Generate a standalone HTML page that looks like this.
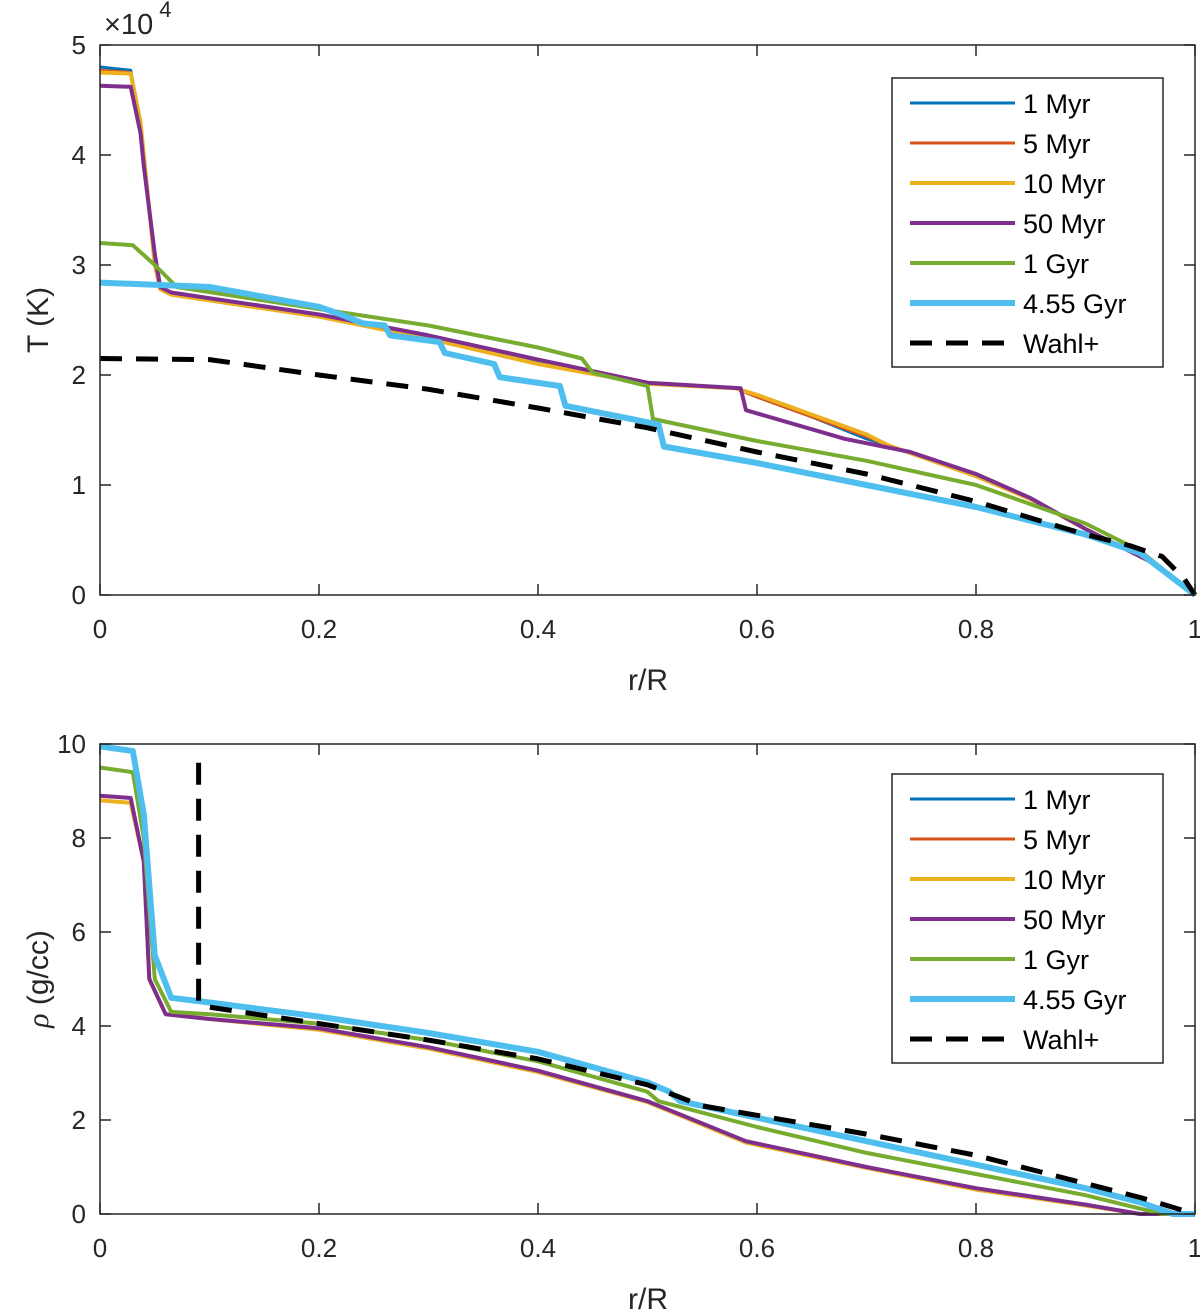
<!DOCTYPE html>
<html><head><meta charset="utf-8"><style>
body{margin:0;background:#fff;}
svg{display:block;font-family:"Liberation Sans",Arial,sans-serif;}
</style></head><body>
<svg id="chart" width="1200" height="1310" viewBox="0 0 1200 1310"></svg>
<script>
// ---- data (top panel: T in 1e4 K vs r/R) ----
const seriesNames = ["1 Myr","5 Myr","10 Myr","50 Myr","1 Gyr","4.55 Gyr","Wahl+"];
const seriesColors = ["#0072BD","#D95319","#EDB120","#7E2F8E","#77AC30","#4DBEEE","#000000"];
const seriesWidths = [3,3,4,4,4,6,5];
const tX1 = [0,0.028,0.037,0.04,0.05,0.055,0.065,0.2,0.3,0.4,0.5,0.58,0.6,0.65,0.7,0.72,0.76,0.8,0.85,0.9,0.93,0.96,1];
const tY1 = [4.8,4.77,4.3,4.0,3.0,2.8,2.75,2.55,2.35,2.12,1.93,1.88,1.8,1.62,1.42,1.36,1.22,1.08,0.87,0.6,0.45,0.3,0];
const tY2 = [4.77,4.75,4.3,4.0,3.0,2.8,2.74,2.54,2.34,2.1,1.92,1.88,1.8,1.62,1.44,1.36,1.22,1.08,0.87,0.6,0.45,0.3,0];
const tY3 = [4.75,4.74,4.3,4.0,3.0,2.78,2.73,2.53,2.33,2.1,1.92,1.88,1.82,1.64,1.46,1.36,1.22,1.08,0.87,0.6,0.45,0.3,0];
const tX4 = [0,0.028,0.037,0.04,0.05,0.055,0.065,0.2,0.3,0.4,0.5,0.585,0.59,0.68,0.74,0.8,0.85,0.9,0.93,0.96,1];
const tY4 = [4.63,4.62,4.2,3.9,3.1,2.8,2.75,2.55,2.36,2.14,1.93,1.88,1.68,1.42,1.3,1.1,0.88,0.6,0.45,0.3,0];
const tX5 = [0,0.03,0.05,0.07,0.2,0.3,0.4,0.44,0.45,0.5,0.505,0.6,0.7,0.8,0.9,0.95,1];
const tY5 = [3.2,3.18,3.0,2.8,2.6,2.45,2.25,2.15,2.02,1.9,1.6,1.4,1.22,1.0,0.65,0.4,0];
const tX6 = [0,0.1,0.2,0.22,0.24,0.26,0.265,0.31,0.315,0.36,0.365,0.42,0.425,0.51,0.515,0.6,0.7,0.8,0.9,0.95,1];
const tY6 = [2.84,2.8,2.62,2.55,2.47,2.45,2.36,2.3,2.2,2.1,1.98,1.9,1.72,1.55,1.35,1.2,1.0,0.8,0.55,0.38,0];
const tX7 = [0,0.1,0.2,0.3,0.4,0.5,0.6,0.7,0.8,0.9,0.94,0.97,0.99,1];
const tY7 = [2.15,2.14,2.0,1.87,1.7,1.52,1.3,1.1,0.85,0.55,0.45,0.35,0.15,0];
// ---- data (bottom panel: rho g/cc) ----
const dXp = [0,0.028,0.04,0.045,0.06,0.1,0.2,0.3,0.4,0.5,0.59,0.7,0.8,0.9,0.95,1];
const dY1 = [8.8,8.75,7.5,5.0,4.25,4.15,3.92,3.52,3.02,2.38,1.52,0.98,0.52,0.18,0,0];
const dY4 = [8.9,8.85,7.5,5.0,4.25,4.15,3.95,3.55,3.05,2.4,1.55,1.0,0.55,0.2,0,0];
const dX5 = [0,0.03,0.04,0.05,0.065,0.1,0.2,0.3,0.4,0.5,0.51,0.6,0.7,0.8,0.9,0.97,1];
const dY5 = [9.5,9.4,8.0,5.0,4.3,4.25,4.05,3.7,3.25,2.6,2.4,1.85,1.3,0.85,0.4,0,0];
const dX6 = [0,0.03,0.04,0.05,0.065,0.1,0.2,0.3,0.4,0.5,0.52,0.53,0.6,0.7,0.8,0.9,0.95,0.98,1];
const dY6 = [9.95,9.85,8.5,5.5,4.6,4.5,4.2,3.85,3.45,2.8,2.6,2.4,2.05,1.55,1.05,0.55,0.25,0,0];
const dX7 = [0.09,0.09,0.1,0.2,0.3,0.4,0.5,0.55,0.6,0.7,0.8,0.9,0.95,1];
const dY7 = [9.6,4.5,4.4,4.05,3.7,3.3,2.75,2.3,2.1,1.7,1.25,0.65,0.35,0];
const xTicks = [0,0.2,0.4,0.6,0.8,1];
const xTickLabels = ["0","0.2","0.4","0.6","0.8","1"];
const tTicks = [0,1,2,3,4,5];
const dTicks = [0,2,4,6,8,10];

const NS="http://www.w3.org/2000/svg";
const svg=document.getElementById('chart');
function el(t,a,p){const e=document.createElementNS(NS,t);for(const k in a)e.setAttribute(k,a[k]);(p||svg).appendChild(e);return e;}

function panel(opt){
  const L=100,R=1195,T=opt.top,B=opt.bottom;
  const sx=v=>L+v*(R-L), sy=v=>B-(v-opt.ymin)/(opt.ymax-opt.ymin)*(B-T);
  const g=el('g',{});
  
  
  opt.series.forEach((s,i)=>{
    const d=s.x.map((x,j)=>(j?'L':'M')+sx(x).toFixed(1)+' '+sy(s.y[j]).toFixed(1)).join(' ');
    const p=el('path',{d:d,fill:'none',stroke:seriesColors[s.c],'stroke-width':seriesWidths[s.c],'stroke-linejoin':'round','stroke-dasharray':s.c===6?'22 14':'none'},g);
    
    
  });
  const box=el('rect',{x:L,y:T,width:R-L,height:B-T,fill:'none',stroke:'#262626','stroke-width':1.5},g);
  
  
  xTicks.forEach((v,i)=>{
    const x=sx(v);
    el('line',{x1:x,x2:x,y1:B,y2:B-11,stroke:'#262626','stroke-width':1.5},g);
    el('line',{x1:x,x2:x,y1:T,y2:T+11,stroke:'#262626','stroke-width':1.5},g);
    const t=el('text',{x:x,y:B+43,'font-size':26,'text-anchor':'middle',fill:'#262626'},g);
    t.textContent=xTickLabels[i];
    
    
  });
  opt.yticks.forEach(v=>{
    const y=sy(v);
    el('line',{x1:L,x2:L+11,y1:y,y2:y,stroke:'#262626','stroke-width':1.5},g);
    el('line',{x1:R,x2:R-11,y1:y,y2:y,stroke:'#262626','stroke-width':1.5},g);
    const t=el('text',{x:L-14,y:y+9,'font-size':26,'text-anchor':'end',fill:'#262626'},g);
    t.textContent=String(v);
    
    
  });
  const xl=el('text',{x:648,y:B+95,'font-size':30,'text-anchor':'middle',fill:'#262626'},g);
  xl.textContent='r/R';
  
  
  const yl=el('text',{x:0,y:0,'font-size':30,'text-anchor':'middle',fill:'#262626',transform:`translate(48 ${(T+B)/2}) rotate(-90)`},g);
  yl.innerHTML=opt.ylabel;
  
  
  const lg=el('g',{},g);
  
  
  const ly=opt.legTop;
  el('rect',{x:892,y:ly,width:271,height:289,fill:'#fff',stroke:'#262626','stroke-width':1.5},lg);
  seriesNames.forEach((n,i)=>{
    const y=ly+25+i*40;
    el('line',{x1:910,x2:1015,y1:y,y2:y,stroke:seriesColors[i],'stroke-width':seriesWidths[i],'stroke-dasharray':i===6?'22 14':'none'},lg);
    const t=el('text',{x:1023,y:y+10,'font-size':27,fill:'#000'},lg);
    t.textContent=n;
    
    
  });
}

panel({name:'temperature-panel',top:45,bottom:595,ymin:0,ymax:5,yticks:tTicks,ylabel:'T (K)',legTop:78,
  series:[{x:tX1,y:tY1,c:0},{x:tX1,y:tY2,c:1},{x:tX1,y:tY3,c:2},{x:tX4,y:tY4,c:3},{x:tX5,y:tY5,c:4},{x:tX6,y:tY6,c:5},{x:tX7,y:tY7,c:6}]});
panel({name:'density-panel',top:744,bottom:1214,ymin:0,ymax:10,yticks:dTicks,ylabel:'<tspan font-family="Liberation Serif" font-style="italic">ρ</tspan> (g/cc)',legTop:774,
  series:[{x:dXp,y:dY1,c:0},{x:dXp,y:dY1,c:1},{x:dXp,y:dY1,c:2},{x:dXp,y:dY4,c:3},{x:dX5,y:dY5,c:4},{x:dX6,y:dY6,c:5},{x:dX7,y:dY7,c:6}]});
const ex=el('text',{x:104,y:34,'font-size':29,fill:'#262626'});
ex.innerHTML='×10<tspan dx="6" dy="-17" font-size="22">4</tspan>';


</script>
</body></html>
